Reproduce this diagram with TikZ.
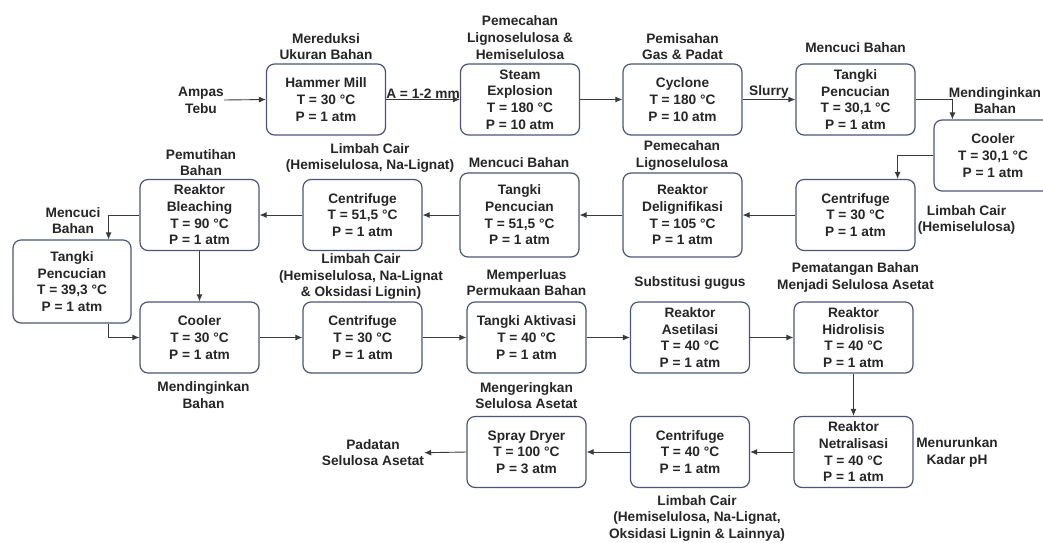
\documentclass[tikz,border=0pt]{standalone}
\usepackage{fontspec}
\setmainfont{Liberation Sans}
\usetikzlibrary{arrows.meta,calc}
\definecolor{boxc}{HTML}{4A5578}
\definecolor{linec}{HTML}{3A3A3A}
\definecolor{txt}{HTML}{262626}
\begin{document}
\begin{tikzpicture}[x=1pt,y=-1pt,
  every node/.style={font=\fontsize{13.7}{16.7}\selectfont\bfseries, text=txt, align=center, inner sep=0pt},
  unit/.style={draw=boxc, line width=1.2pt, rounded corners=8pt, minimum width=119pt, minimum height=71pt},
  tallunit/.style={unit, minimum height=84pt},
  arr/.style={draw=linec, line width=0.9pt, -{Latex[length=7pt,width=6pt]}},
  lbl/.style={}]
\useasboundingbox (0,0) rectangle (1043,542);
\clip (0,0) rectangle (1043,542);
\fill[white] (0,0) rectangle (1043,542);

% Row 1
\node[lbl] (ampas) at (201,100) {Ampas\\Tebu};
\node[unit] (hm) at (326,99.5) {Hammer Mill\\T = 30 °C\\P = 1 atm};
\node[lbl] (lhm) at (326,46.5) {Mereduksi\\Ukuran Bahan};
\node[unit] (se) at (520,99.5) {Steam\\Explosion\\T = 180 °C\\P = 10 atm};
\node[lbl] (lse) at (520,37.5) {Pemecahan\\Lignoselulosa \&\\Hemiselulosa};
\node[unit] (cy) at (682.5,99.5) {Cyclone\\T = 180 °C\\P = 10 atm};
\node[lbl] (lcy) at (682.5,46.5) {Pemisahan\\Gas \& Padat};
\node[unit] (tp1) at (855.5,99.5) {Tangki\\Pencucian\\T = 30,1 °C\\P = 1 atm};
\node[lbl] (ltp1) at (855.5,47.7) {Mencuci Bahan};
\node[unit, minimum width=118pt] (co1) at (993,155.5) {Cooler\\T = 30,1 °C\\P = 1 atm};
\node[lbl] (lco1) at (995,100.5) {Mendinginkan\\Bahan};

% Row 2
\node[unit] (ce1) at (855.5,215) {Centrifuge\\T = 30 °C\\P = 1 atm};
\node[lbl] (lce1) at (966.5,220) {Limbah Cair\\(Hemiselulosa)};
\node[tallunit] (dl) at (682.5,215) {Reaktor\\Delignifikasi\\T = 105 °C\\P = 1 atm};
\node[lbl] (ldl) at (682,155.5) {Pemecahan\\Lignoselulosa};
\node[tallunit] (tp2) at (519.5,215) {Tangki\\Pencucian\\T = 51,5 °C\\P = 1 atm};
\node[lbl] (ltp2) at (519,162.3) {Mencuci Bahan};
\node[unit] (ce2) at (362.5,215) {Centrifuge\\T = 51,5 °C\\P = 1 atm};
\node[lbl] (lce2) at (370,158) {Limbah Cair\\(Hemiselulosa, Na-Lignat)};
\node[unit] (bl) at (199.5,215) {Reaktor\\Bleaching\\T = 90 °C\\P = 1 atm};
\node[lbl] (lbl1) at (201,162.5) {Pemutihan\\Bahan};
\node[lbl] (lmc) at (73,220.5) {Mencuci\\Bahan};
\node[unit, minimum width=118pt, minimum height=83pt] (tp3) at (72,281.5) {Tangki\\Pencucian\\T = 39,3 °C\\P = 1 atm};

% Row 3
\node[unit] (co2) at (199.5,337.5) {Cooler\\T = 30 °C\\P = 1 atm};
\node[lbl] (lco2) at (203.5,395) {Mendinginkan\\Bahan};
\node[unit] (ce3) at (362.5,337.5) {Centrifuge\\T = 30 °C\\P = 1 atm};
\node[lbl] (lce3) at (361,276.7) {Limbah Cair\\(Hemiselulosa, Na-Lignat\\\& Oksidasi Lignin)};
\node[unit] (ta) at (526.5,337.5) {Tangki Aktivasi\\T = 40 °C\\P = 1 atm};
\node[lbl] (lta) at (526.5,282.7) {Memperluas\\Permukaan Bahan};
\node[unit] (as) at (690,337.5) {Reaktor\\Asetilasi\\T = 40 °C\\P = 1 atm};
\node[lbl] (las) at (690,282.7) {Substitusi gugus};
\node[unit] (hi) at (853.5,337.5) {Reaktor\\Hidrolisis\\T = 40 °C\\P = 1 atm};
\node[lbl] (lhi) at (855.5,277.7) {Pematangan Bahan\\Menjadi Selulosa Asetat};

% Row 4
\node[unit] (ne) at (853.5,452) {Reaktor\\Netralisasi\\T = 40 °C\\P = 1 atm};
\node[lbl] (lne) at (957,452.7) {Menurunkan\\Kadar pH};
\node[unit] (ce4) at (690,452) {Centrifuge\\T = 40 °C\\P = 1 atm};
\node[lbl] (lce4) at (697,518.3) {Limbah Cair\\(Hemiselulosa, Na-Lignat,\\Oksidasi Lignin \& Lainnya)};
\node[unit] (sd) at (526.5,452) {Spray Dryer\\T = 100 °C\\P = 3 atm};
\node[lbl] (lsd) at (526.5,395.7) {Mengeringkan\\Selulosa Asetat};
\node[lbl] (pad) at (373,452.7) {Padatan\\Selulosa Asetat};

% Connectors
\draw[arr] (ampas.east) -- (hm.west);
\draw[arr] (hm.east) -- node[above=1pt] {A = 1-2 mm} (se.west);
\draw[arr] (se.east) -- (cy.west);
\draw[arr] (cy.east) -- node[above=1pt] {Slurry} (tp1.west);
\draw[arr] (tp1.east) -| ($(co1.north west)+(19,0)$);
\draw[arr] (co1.west) -| ($(ce1.north east)+(-18,0)$);
\draw[arr] (ce1.west) -- (dl.east);
\draw[arr] (dl.west) -- (tp2.east);
\draw[arr] (tp2.west) -- (ce2.east);
\draw[arr] (ce2.west) -- (bl.east);
\draw[arr] (bl.west) -| ($(tp3.north east)+(-23,0)$);
\draw[arr] ($(tp3.south east)+(-23,0)$) |- (co2.west);
\draw[arr] (bl.south) -- (co2.north);
\draw[arr] (co2.east) -- (ce3.west);
\draw[arr] (ce3.east) -- (ta.west);
\draw[arr] (ta.east) -- (as.west);
\draw[arr] (as.east) -- (hi.west);
\draw[arr] (hi.south) -- (ne.north);
\draw[arr] (ne.west) -- (ce4.east);
\draw[arr] (ce4.west) -- (sd.east);
\draw[arr] (sd.west) -- (pad.east);
\end{tikzpicture}
\end{document}
